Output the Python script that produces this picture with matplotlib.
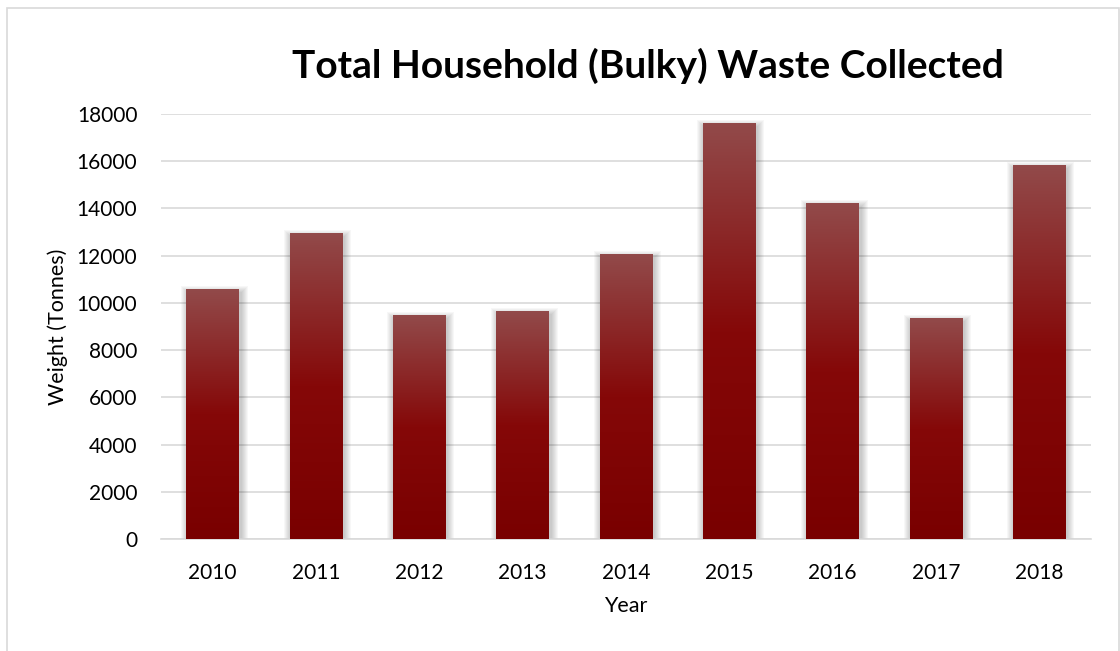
import matplotlib

matplotlib.use("Agg")
import matplotlib.pyplot as plt
import numpy as np
from matplotlib.colors import LinearSegmentedColormap
from matplotlib.patches import Rectangle

plt.rcParams["font.family"] = ["Lato", "DejaVu Sans"]

years = ["2010", "2011", "2012", "2013", "2014", "2015", "2016", "2017", "2018"]
tonnes = [10560, 12920, 9450, 9620, 12070, 17580, 14230, 9320, 15800]
y_ticks = [0, 2000, 4000, 6000, 8000, 10000, 12000, 14000, 16000, 18000]

W, H = 1120, 651
fig = plt.figure(figsize=(W / 100, H / 100), dpi=100)

# outer chart frame (bottom edge runs off the canvas)
fig.patches.append(Rectangle((7 / W, -0.05), 1112 / W, 1.05 - 8 / H,
                             transform=fig.transFigure, fill=False,
                             edgecolor="#d9d9d9", linewidth=1.2))

ax = fig.add_axes([161 / W, 1 - 539 / H, 930 / W, 425 / H])
x = np.arange(len(years))
bars = ax.bar(x, tonnes, width=0.51, facecolor="none", edgecolor="none", zorder=3)

# vertical red gradient, lighter at the top of every bar
grad = LinearSegmentedColormap.from_list(
    "bar", [(0.0, "#924a4a"), (0.5, "#850808"), (1.0, "#790000")])
col = grad(np.linspace(0, 1, 256))[:, None, :]

px_x = 1 / 103.4
px_y = 18000 / 425
for b in bars:
    x0, w, h = b.get_x(), b.get_width(), b.get_height()
    # soft drop shadow
    for k in range(1, 8):
        ax.add_patch(Rectangle((x0 - k * px_x + 1.5 * px_x, -k * px_y - 1.5 * px_y),
                               w + 2 * k * px_x, h + 2 * k * px_y - 2 * px_y,
                               facecolor="#000000", edgecolor="none",
                               alpha=0.03, zorder=2))
    ax.imshow(col, extent=[x0, x0 + w, 0, h], aspect="auto",
              origin="upper", zorder=3, interpolation="bilinear")

ax.set_xlim(-0.5, len(years) - 0.5)
ax.set_ylim(0, 18000)
ax.set_yticks(y_ticks)
ax.set_yticklabels([str(t) for t in y_ticks])
ax.set_xticks(x)
ax.set_xticklabels(years)
ax.tick_params(axis="both", length=0, labelsize=15, colors="#000000")
ax.tick_params(axis="x", pad=17)
ax.tick_params(axis="y", pad=17)
ax.grid(axis="y", color="#d9d9d9", linewidth=1.2, zorder=0)
ax.set_axisbelow(True)
for s in ["top", "right", "left"]:
    ax.spines[s].set_visible(False)
ax.spines["bottom"].set_color("#d9d9d9")
ax.spines["bottom"].set_linewidth(1.2)

ax.set_ylabel("Weight (Tonnes)", fontsize=15.5, labelpad=6)
ax.set_xlabel("Year", fontsize=15.5, labelpad=10)

fig.text(648 / W, 1 - 66 / H, "Total Household (Bulky) Waste Collected",
         ha="center", va="center", fontsize=28, fontweight="bold")

fig.savefig("out.png", dpi=100)
